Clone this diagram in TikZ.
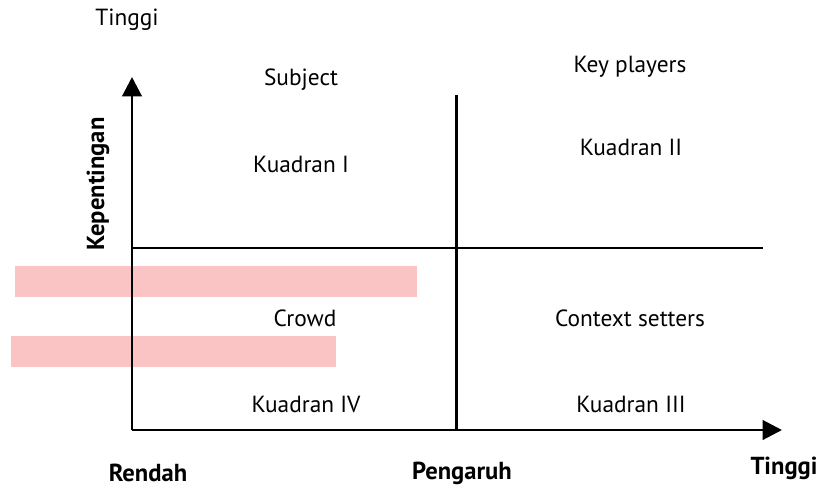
\documentclass[tikz,border=0pt]{standalone}
\usepackage{fontspec}
\setmainfont{PT Sans}
\usetikzlibrary{arrows.meta}
\definecolor{barpink}{HTML}{F9C4C3}
\tikzset{>={Triangle[width=11pt,length=11pt]},
  axis/.style={line width=1.7pt},
  lbl/.style={font=\fontsize{13.3}{15}\selectfont},
  axlbl/.style={font=\bfseries\fontsize{14}{16}\selectfont}
}

\begin{document}
\begin{tikzpicture}[x=0.02cm,y=-0.02cm]
  \useasboundingbox (0,0) rectangle (817,486);

  % Highlight bars
  \fill[barpink] (15,266) rectangle (417,297);
  \fill[barpink] (11,336) rectangle (336,367);

  % Axes
  \coordinate (origin) at (132,430);
  \coordinate (ytop) at (132,77);
  \coordinate (xend) at (782,430);
  \draw[axis,->] (origin) -- (ytop);
  \draw[axis,->] (origin) -- (xend);

  % Quadrant dividers
  \coordinate (vtop) at (456,95);
  \coordinate (vbot) at (456,430);
  \coordinate (hleft) at (132,248);
  \coordinate (hright) at (763,248);
  \draw[axis] (vtop) -- (vbot);
  \draw[axis] (hleft) -- (hright);

  % Quadrant labels
  \node[lbl] (subject) at (301,80) {Subject};
  \node[lbl] (kuadI) at (301,164) {Kuadran I};
  \node[lbl] (keyplay) at (630,67) {Key players};
  \node[lbl] (kuadII) at (631,147) {Kuadran II};
  \node[lbl] (crowd) at (305,318) {Crowd};
  \node[lbl] (kuadIV) at (306,404) {Kuadran IV};
  \node[lbl] (context) at (630,318) {Context setters};
  \node[lbl] (kuadIII) at (631,404) {Kuadran III};

  % Axis labels
  \node[lbl] (ytinggi) at (127,20) {Tinggi};
  \node[axlbl,rotate=90] (kepent) at (98,184) {Kepentingan};
  \node[axlbl] (rendah) at (148,473) {Rendah};
  \node[axlbl] (pengaruh) at (462,473) {Pengaruh};
  \node[axlbl] (xtinggi) at (784,468) {Tinggi};
\end{tikzpicture}
\end{document}
